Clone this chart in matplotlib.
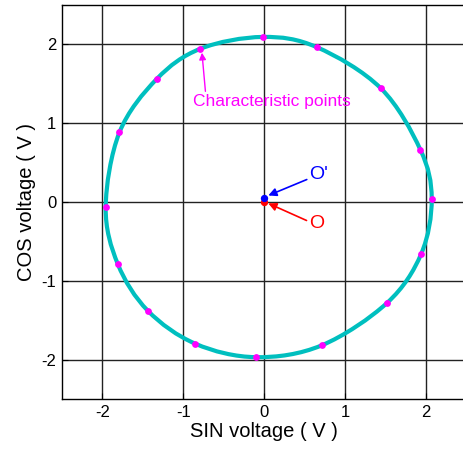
import matplotlib
matplotlib.use("Agg")
import matplotlib.pyplot as plt
import numpy as np
from matplotlib.path import Path
from matplotlib.patches import PathPatch

# Characteristic points (clockwise from the top);
# the measured trace passes through all of them.
char_x = [-0.02, 0.65, 1.44, 1.93, 2.07, 1.94, 1.52, 0.71, -0.10, -0.85, -1.44, -1.81, -1.96, -1.79, -1.33, -0.79]
char_y = [2.09, 1.96, 1.44, 0.66, 0.04, -0.66, -1.28, -1.82, -1.97, -1.80, -1.38, -0.79, -0.07, 0.88, 1.556, 1.94]

o_point = (0.0, 0.0)
o_prime_point = (0.0, 0.05)

xticks = [-2, -1, 0, 1, 2]
yticks = [-2, -1, 0, 1, 2]

plt.rcParams['font.family'] = ['Liberation Sans', 'DejaVu Sans']
plt.rcParams['axes.unicode_minus'] = False

fig = plt.figure(figsize=(4.63, 4.49), dpi=100)
ax = fig.add_axes([62/463, 50/449, (466.5-62)/463, (399-4.6)/449])
ax.set_xlim(-2.5, 2.5)
ax.set_ylim(-2.5, 2.5)
ax.set_xticks(xticks)
ax.set_yticks(yticks)
ax.grid(True, color='#222222', linewidth=1.0)
ax.set_axisbelow(True)
ax.tick_params(direction='in', length=4, labelsize=12, color='black', pad=4)
for s in ax.spines.values():
    s.set_linewidth(1.0)
    s.set_color('black')

# Smooth closed trace through the points (cubic Bezier segments drawn by matplotlib)
P = np.column_stack([char_x, char_y])
n = len(P)
verts = [P[0]]
codes = [Path.MOVETO]
for i in range(n):
    p0, p1, p2, p3 = P[(i - 1) % n], P[i], P[(i + 1) % n], P[(i + 2) % n]
    verts += [p1 + (p2 - p0) / 6.0, p2 - (p3 - p1) / 6.0, p2]
    codes += [Path.CURVE4] * 3
curve = PathPatch(Path(verts, codes), fill=False, edgecolor='#00BFBF', linewidth=3.0,
                  joinstyle='round', zorder=3)
ax.add_patch(curve)

ax.scatter(char_x, char_y, s=24, color='#FF00FF', zorder=4, linewidths=0)
ax.scatter([o_point[0]], [o_point[1]], s=28, color='red', zorder=5, linewidths=0)
ax.scatter([o_prime_point[0]], [o_prime_point[1]], s=28, color='blue', zorder=6, linewidths=0)

ax.annotate("O'", xy=(0.05, 0.08), xytext=(0.56, 0.34), color='blue', fontsize=14,
            va='center', ha='left',
            arrowprops=dict(arrowstyle='-|>', color='blue', lw=1.2, mutation_scale=12,
                            shrinkA=0, shrinkB=0, relpos=(0.0, 0.3)))
ax.annotate("O", xy=(0.05, -0.02), xytext=(0.56, -0.28), color='red', fontsize=14,
            va='center', ha='left',
            arrowprops=dict(arrowstyle='-|>', color='red', lw=1.2, mutation_scale=12,
                            shrinkA=0, shrinkB=0, relpos=(-0.2, 0.7)))
ax.annotate("Characteristic points", xy=(-0.77, 1.89), xytext=(-0.88, 1.27),
            color='#FF00FF', fontsize=12.5, va='center', ha='left',
            arrowprops=dict(arrowstyle='-|>', color='#FF00FF', lw=1.0, mutation_scale=10,
                            shrinkA=0, shrinkB=0, relpos=(0.08, 1.0)))

ax.set_xlabel('SIN voltage ( V )', fontsize=14.5, labelpad=2)
ax.set_ylabel('COS voltage ( V )', fontsize=14.5, labelpad=4)

fig.savefig('out.png', dpi=100)
